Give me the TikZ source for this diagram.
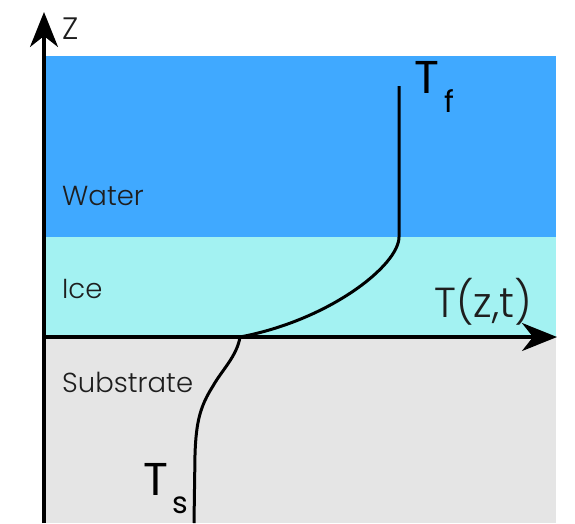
\documentclass[tikz,border=0pt]{standalone}
\usepackage{fontspec}
\setmainfont{Poppins}
\newfontfamily\lightfont{Poppins Light}
\usetikzlibrary{arrows.meta}
\definecolor{waterc}{RGB}{64,169,255}
\definecolor{icec}{RGB}{163,242,242}
\definecolor{subc}{RGB}{229,229,229}
\definecolor{labc}{RGB}{30,30,30}
\begin{document}
\begin{tikzpicture}[x=1pt,y=-1pt,
  layer/.style={fill=#1,draw=none},
  lab/.style={anchor=base west,inner sep=0pt,text=labc,font=\lightfont\fontsize{27.5}{27.5}\selectfont},
  big/.style={anchor=base west,inner sep=0pt,text=black,font=\fontsize{46}{46}\selectfont},
  sub/.style={anchor=base west,inner sep=0pt,text=black,font=\fontsize{30}{30}\selectfont},
  axis/.style={line width=3.2pt,-{Stealth[length=35pt,width=28pt,inset=11pt]}},
  prof/.style={line width=3pt,line join=round}]
\useasboundingbox (0,0) rectangle (575,523);
% layers
\fill[layer=waterc] (44,56) rectangle (556,237);
\fill[layer=icec] (44,237) rectangle (556,337);
\fill[layer=subc] (44,337) rectangle (556,523);
% layer labels
\node[lab] (water) at (62,205) {Water};
\node[lab] (ice) at (62,298) {Ice};
\node[lab] (substrate) at (62,392) {Substrate};
% axes
\coordinate (o) at (44,337);
\coordinate (zb) at (44,523);
\coordinate (zt) at (44,12);
\coordinate (xe) at (557,337);
\draw[axis] (zb) -- (zt);
\draw[axis] (o) -- (xe);
\node[lab,font=\lightfont\fontsize{31}{31}\selectfont] (zlab) at (62,39) {Z};
\node[big,text=labc,font=\lightfont\fontsize{42}{42}\selectfont] (tlab) at (434,317) {T(z,t)};
% temperature profile
\coordinate (ptop) at (399,86);
\coordinate (pice) at (399,237);
\coordinate (pint) at (240,337);
\coordinate (pbot) at (194,523);
\draw[prof] (ptop) -- (pice)
  .. controls (399,265) and (330,320) .. (pint)
  .. controls (237,356) and (222,370) .. (213,386)
  .. controls (201,405) and (196,420) .. (195,455)
  -- (pbot);
% T labels
\node[big] (tf) at (414,93) {T};
\node[sub] (tfs) at (444,112) {f};
\node[big] (ts) at (143,495) {T};
\node[sub] (tss) at (172,513) {s};
\end{tikzpicture}
\end{document}
